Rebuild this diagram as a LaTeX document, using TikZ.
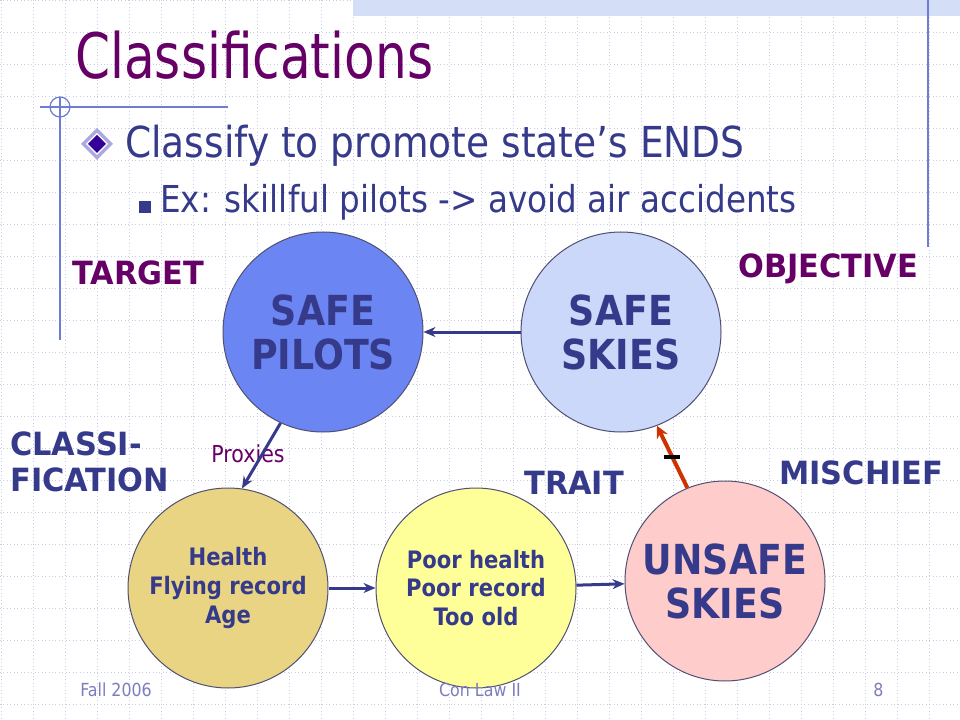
\documentclass[tikz,border=0pt]{standalone}
\usepackage{fontspec}
\setmainfont{DejaVu Sans}[FakeStretch=0.88]
\newfontfamily\titlefont{DejaVu Sans}[FakeStretch=0.8]
\newfontfamily\tagfont{DejaVu Sans}[FakeStretch=0.95]
\usetikzlibrary{arrows.meta,calc}
\definecolor{titlepurple}{RGB}{102,0,102}
\definecolor{inkblue}{RGB}{54,58,138}
\definecolor{gridblue}{RGB}{200,204,234}
\definecolor{rulerblue}{RGB}{110,125,210}
\definecolor{bandblue}{RGB}{212,222,246}
\definecolor{footblue}{RGB}{125,125,190}
\definecolor{pilotsfill}{RGB}{107,133,242}
\definecolor{skiesfill}{RGB}{204,216,250}
\definecolor{healthfill}{RGB}{232,212,130}
\definecolor{poorfill}{RGB}{255,255,153}
\definecolor{unsafefill}{RGB}{255,204,204}
\definecolor{edgegray}{RGB}{80,80,115}
\definecolor{harmred}{RGB}{204,51,0}
\definecolor{diamondlav}{RGB}{170,170,225}
\definecolor{diamondink}{RGB}{51,0,153}
\begin{document}
\begin{tikzpicture}[x=0.75pt,y=-0.75pt,
    gridline/.style={gridblue,dotted,line width=0.6pt},
    ball/.style={circle,draw=edgegray,line width=0.75pt,minimum size=150pt,inner sep=0pt,text=inkblue,align=center},
    bigword/.style={font=\fontsize{31}{33}\selectfont\bfseries},
    smallword/.style={font=\fontsize{18}{21.4}\selectfont\bfseries},
    tag/.style={inner sep=0pt,anchor=base west,font=\tagfont\fontsize{24}{28}\selectfont\bfseries},
    foot/.style={inner sep=0pt,text=footblue,font=\fontsize{13.5}{15}\selectfont},
    flow/.style={->,>={Stealth[length=9pt,width=7.5pt]},inkblue,line width=2.25pt},
    harm/.style={->,>={Stealth[length=9pt,width=9pt]},harmred,line width=3pt},
    bar/.style={fill=black,inner sep=0pt,minimum width=12pt,minimum height=3pt}]

    \useasboundingbox (0,0) rectangle (960,720);
    \fill[white] (0,0) rectangle (960,720);

    % grid
    \foreach \x in {1,33,...,961} \draw[gridline] (\x,0) -- (\x,720);
    \foreach \y in {0,32,...,720} \draw[gridline] (0,\y) -- (960,\y);

    % slide trim
    \fill[bandblue] (353,0) rectangle (960,16);
    \draw[rulerblue,line width=0.9pt] (928,0) -- (928,247);
    \draw[rulerblue,line width=0.9pt] (40,107) -- (228,107);
    \draw[rulerblue,line width=0.9pt] (60,97) -- (60,340);
    \draw[rulerblue,line width=0.9pt] (60,107) circle (10);

    % title and bullets
    \node[inner sep=0pt,anchor=base west,text=titlepurple,font=\titlefont\fontsize{47}{56}\selectfont] (title) at (75,79) {Classifications};
    \coordinate (D) at (97,144); % diamond bullet
    \fill[diamondlav] ($(D)+(-16,0)$) -- ++(16,-16) -- ++(16,16) -- ++(-16,16) -- cycle;
    \fill[white] ($(D)+(-11,0)$) -- ++(11,-11) -- ++(11,11) -- ++(-11,11) -- cycle;
    \fill[diamondink] ($(D)+(-9,0)$) -- ++(9,-9) -- ++(9,9) -- ++(-9,9) -- cycle;
    \node[inner sep=0pt,anchor=base west,text=inkblue,font=\fontsize{32}{38}\selectfont] (ends) at (125,158) {Classify to promote state’s ENDS};
    \fill[inkblue] (139,201) rectangle (151,213);
    \node[inner sep=0pt,anchor=base west,text=inkblue,font=\fontsize{27.8}{32}\selectfont] (example) at (160,213) {Ex: skillful pilots -> avoid air accidents};

    % circles
    \coordinate (P) at (323,332); % safe pilots
    \coordinate (S) at (621,332); % safe skies
    \coordinate (H) at (228,588); % health
    \coordinate (R) at (476,588); % poor health
    \coordinate (U) at (725,581); % unsafe skies
    \node[ball,bigword,fill=pilotsfill] (pilots) at (P) {SAFE\\PILOTS};
    \node[ball,bigword,fill=skiesfill] (skies) at (S) {SAFE\\SKIES};
    \node[ball,smallword,fill=healthfill] (health) at (H) {Health\\Flying record\\Age};
    \node[ball,smallword,fill=poorfill] (poor) at (R) {Poor health\\Poor record\\Too old};
    \node[ball,bigword,fill=unsafefill] (unsafe) at (U) {UNSAFE\\SKIES};

    % labels
    \node[tag,text=titlepurple] (target) at (72,285) {TARGET};
    \node[tag,text=titlepurple] (objective) at (738,277) {OBJECTIVE};
    \node[tag,text=inkblue] (classi) at (10,455) {CLASSI-};
    \node[tag,text=inkblue] (fication) at (10,491) {FICATION};
    \node[tag,text=inkblue] (trait) at (524,494) {TRAIT};
    \node[tag,text=inkblue] (mischief) at (779,484) {MISCHIEF};
    \node[inner sep=0pt,text=titlepurple,font=\fontsize{17.5}{20}\selectfont] (proxies) at (248,454) {Proxies};

    % arrows
    \draw[flow] (skies) -- (pilots);
    \draw[flow] (pilots.245) -- (health.82);
    \draw[flow] (health) -- (poor);
    \draw[flow] (poor) -- (unsafe);
    \draw[harm] (unsafe.112) -- (skies.291) node[midway,bar] (tick) {};

    % footer
    \node[foot,anchor=base west] (term) at (80,696) {Fall 2006};
    \node[foot,anchor=base] (course) at (480,696) {Con Law II};
    \node[foot,anchor=base west] (page) at (873,696) {8};
\end{tikzpicture}
\end{document}
